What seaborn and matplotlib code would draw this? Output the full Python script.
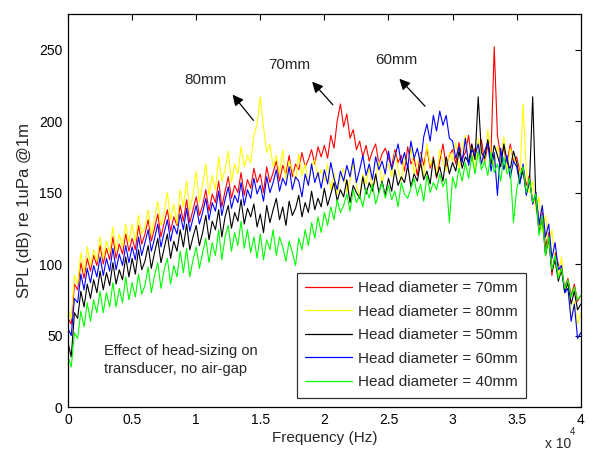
import numpy as np
import pandas as pd
import seaborn as sns
import matplotlib.pyplot as plt
from matplotlib.ticker import FuncFormatter

# frequency axis: 0 .. 40 kHz every 250 Hz
freq = np.arange(0, 40001, 250)

# SPL, one row = 5 kHz
spl_70 = [62, 58, 86, 82, 101, 90, 104, 95, 106, 99, 113, 100, 111, 103, 119, 104, 114, 107, 121, 109,
          118, 110, 127, 114, 121, 131, 116, 125, 135, 119, 129, 138, 123, 133, 127, 141, 130, 145, 129, 138,
          147, 134, 141, 152, 137, 149, 143, 158, 140, 151, 161, 146, 155, 150, 164, 148, 159, 153, 167, 157,
          163, 150, 168, 157, 164, 172, 158, 169, 163, 176, 161, 170, 166, 178, 168, 173, 180, 170, 182, 175,
          183, 174, 190, 181, 200, 212, 196, 205, 188, 194, 180, 186, 175, 183, 172, 179, 184, 170, 177, 181,
          174, 168, 180, 171, 176, 165, 182, 170, 174, 162, 178, 169, 181, 167, 175, 160, 172, 184, 168, 176,
          180, 170, 185, 174, 178, 190, 172, 181, 176, 187, 171, 183, 178, 252, 190, 176, 181, 169, 184, 172,
          175, 165, 168, 155, 162, 142, 150, 127, 136, 112, 122, 92, 108, 100, 95, 84, 90, 78, 86, 74,
          78]
spl_80 = [68, 62, 92, 86, 108, 94, 112, 99, 110, 102, 119, 104, 116, 108, 126, 109, 121, 112, 128, 115,
          128, 116, 134, 121, 126, 138, 120, 132, 144, 127, 136, 150, 131, 142, 128, 152, 140, 158, 137, 149,
          165, 143, 156, 170, 148, 162, 152, 175, 158, 166, 179, 157, 170, 163, 182, 168, 176, 171, 190, 198,
          217, 196, 178, 184, 168, 176, 163, 180, 159, 172, 166, 158, 177, 162, 170, 155, 168, 173, 160, 166,
          158, 170, 152, 164, 149, 161, 167, 150, 158, 171, 155, 147, 163, 156, 168, 151, 160, 172, 157, 165,
          170, 161, 178, 166, 158, 175, 168, 182, 163, 171, 177, 160, 184, 169, 174, 162, 180, 171, 165, 178,
          172, 185, 166, 180, 190, 171, 183, 164, 188, 176, 170, 194, 178, 168, 182, 173, 189, 166, 181, 175,
          170, 160, 212, 166, 150, 158, 138, 147, 122, 134, 112, 124, 100, 92, 105, 80, 86, 62, 74, 58,
          66]
spl_50 = [45, 35, 66, 62, 81, 70, 86, 76, 89, 80, 95, 82, 94, 85, 101, 86, 96, 89, 105, 91,
          104, 93, 110, 96, 102, 113, 97, 108, 118, 101, 111, 121, 104, 116, 109, 124, 112, 128, 110, 119,
          127, 113, 122, 134, 117, 130, 124, 138, 119, 133, 141, 125, 136, 130, 145, 128, 139, 133, 142, 126,
          135, 122, 141, 129, 138, 146, 131, 140, 127, 144, 134, 139, 148, 133, 143, 136, 151, 138, 146, 140,
          153, 141, 149, 157, 144, 152, 147, 159, 143, 155, 150, 146, 161, 149, 157, 151, 163, 150, 158, 148,
          160, 151, 166, 155, 161, 157, 169, 154, 163, 158, 171, 159, 165, 156, 174, 161, 168, 158, 175, 163,
          171, 165, 179, 167, 175, 171, 184, 173, 217, 178, 174, 187, 170, 183, 176, 168, 184, 172, 166, 179,
          171, 158, 165, 149, 157, 217, 144, 122, 133, 106, 118, 95, 103, 88, 96, 80, 87, 72, 81, 68,
          72]
spl_60 = [55, 50, 76, 73, 93, 82, 97, 87, 99, 91, 105, 92, 104, 95, 111, 96, 107, 99, 113, 101,
          112, 103, 119, 106, 115, 124, 109, 118, 128, 112, 122, 131, 116, 127, 121, 135, 124, 139, 123, 132,
          141, 128, 136, 146, 131, 143, 137, 151, 134, 145, 154, 139, 148, 143, 157, 141, 152, 146, 160, 149,
          155, 144, 161, 150, 157, 166, 151, 160, 155, 168, 152, 161, 158, 147, 163, 155, 170, 157, 164, 153,
          166, 156, 171, 160, 152, 165, 158, 169, 161, 174, 157, 166, 176, 162, 170, 159, 175, 166, 172, 163,
          179, 166, 175, 184, 170, 178, 167, 186, 174, 181, 170, 189, 198, 186, 204, 193, 207, 197, 204, 188,
          186, 174, 182, 171, 188, 169, 180, 176, 184, 170, 179, 185, 165, 178, 148, 181, 166, 176, 160, 172,
          168, 156, 170, 148, 160, 142, 150, 128, 141, 119, 128, 104, 115, 96, 99, 80, 83, 60, 72, 48,
          52]
spl_40 = [35, 28, 52, 48, 67, 56, 73, 60, 75, 66, 81, 66, 80, 70, 87, 70, 83, 73, 91, 75,
          87, 77, 93, 79, 85, 98, 80, 92, 101, 83, 96, 104, 86, 99, 91, 109, 94, 111, 91, 103,
          112, 97, 108, 118, 101, 115, 106, 124, 103, 119, 127, 109, 122, 113, 130, 111, 124, 108, 119, 104,
          121, 103, 117, 110, 124, 106, 119, 112, 102, 116, 108, 99, 118, 110, 124, 113, 129, 118, 133, 122,
          136, 127, 140, 131, 145, 136, 141, 149, 137, 152, 143, 148, 140, 153, 146, 156, 142, 150, 157, 146,
          155, 145, 151, 140, 157, 149, 146, 153, 160, 148, 156, 144, 162, 150, 157, 152, 163, 154, 160, 129,
          161, 153, 167, 158, 171, 160, 176, 163, 179, 166, 172, 162, 178, 164, 170, 158, 175, 163, 167, 129,
          152, 162, 168, 150, 160, 143, 149, 120, 134, 106, 119, 96, 106, 90, 97, 83, 89, 77, 84, 75,
          78]

labels = ["Head diameter = 70mm", "Head diameter = 80mm", "Head diameter = 50mm",
          "Head diameter = 60mm", "Head diameter = 40mm"]
colors = ["#ff0000", "#ffff00", "#000000", "#0000ff", "#00ff00"]
series = [spl_70, spl_80, spl_50, spl_60, spl_40]

df = pd.concat([pd.DataFrame({"freq": freq, "spl": s, "head": lab})
                for s, lab in zip(series, labels)], ignore_index=True)

sns.set_style("white")
plt.rcParams["font.family"] = ["Liberation Sans", "DejaVu Sans"]
plt.rcParams["font.size"] = 10

fig = plt.figure(figsize=(5.89, 4.61), dpi=100)
ax = fig.add_axes([0.1155, 0.117, 0.8705, 0.853])

sns.lineplot(data=df, x="freq", y="spl", hue="head", palette=dict(zip(labels, colors)),
             hue_order=labels, estimator=None, linewidth=0.8, ax=ax)

ax.set_xlim(0, 40000)
ax.set_ylim(0, 275)
ax.set_xticks(np.arange(0, 40001, 5000))
ax.set_yticks(np.arange(0, 251, 50))
ax.xaxis.set_major_formatter(FuncFormatter(lambda v, p: f"{v / 1e4:g}"))
ax.tick_params(direction="in", top=True, right=True, length=4, width=0.8,
               labelsize=10, colors="black", pad=4)
for sp in ax.spines.values():
    sp.set_color("black")
    sp.set_linewidth(0.9)
ax.set_xlabel("Frequency (Hz)", fontsize=11, labelpad=3)
ax.set_ylabel("SPL (dB) re 1uPa @1m", fontsize=12, labelpad=5)

leg = ax.legend(loc="lower left", bbox_to_anchor=(0.446, 0.024), fontsize=11,
                frameon=True, fancybox=False, edgecolor="black", handlelength=3.1,
                labelspacing=0.62, borderpad=0.55, handletextpad=0.35, borderaxespad=0)
leg.get_frame().set_linewidth(0.9)
for h in leg.get_lines():
    h.set_linewidth(0.9)

ax.text(2800, 33, "Effect of head-sizing on\ntransducer, no air-gap", fontsize=10.5,
        ha="left", va="center", linespacing=1.35)

arrow = dict(arrowstyle="-|>", color="black", lw=0.9, mutation_scale=16)
ax.annotate("", xy=(12700, 220), xytext=(14600, 199), arrowprops=arrow)
ax.annotate("", xy=(18900, 229), xytext=(20800, 210), arrowprops=arrow)
ax.annotate("", xy=(25700, 231), xytext=(28000, 209), arrowprops=arrow)
ax.text(10700, 229, "80mm", ha="center", va="center", fontsize=11)
ax.text(17300, 239, "70mm", ha="center", va="center", fontsize=11)
ax.text(25600, 243, "60mm", ha="center", va="center", fontsize=11)

fig.text(0.925, 0.022, "x 10", fontsize=10, ha="left", va="bottom")
fig.text(0.967, 0.052, "4", fontsize=7, ha="left", va="bottom")

fig.savefig("out.png", dpi=100, facecolor="white")
plt.close(fig)
